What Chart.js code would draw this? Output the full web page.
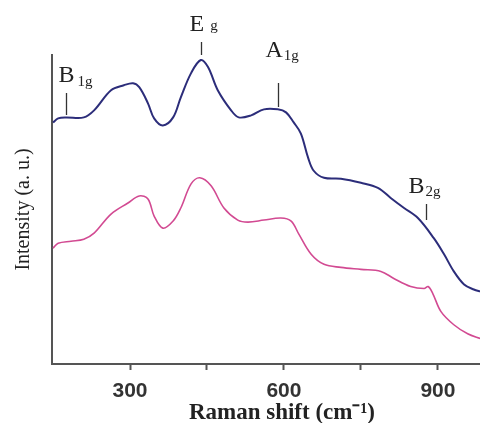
<!DOCTYPE html>
<html>
<head>
<meta charset="utf-8">
<title>Raman spectra</title>
<script src="https://cdn.jsdelivr.net/npm/chart.js@4"></script>
<style>
  html, body { margin: 0; padding: 0; background: #fff; }
  #ramanChart { display: block; }
</style>
</head>
<body>
<canvas id="ramanChart" width="480" height="423"></canvas>
<script>
// upper spectrum (blue)
const shiftTop = [150, 160, 175, 210, 230, 263, 288, 306, 318, 335, 347, 364, 384, 399, 419, 438, 452, 471, 497, 512, 536, 561, 588, 604, 619, 633, 647, 658, 678, 711, 750, 783, 808, 834, 861, 892, 912, 931, 951, 970, 984];
const intensityTop = [240, 244, 245, 245, 252, 272, 277, 279, 275, 259, 244, 237, 245, 265, 289, 302, 295, 272, 252, 245, 247, 253, 253, 250, 240, 229, 205, 192, 185, 184, 180, 175, 165, 155, 145, 125, 109, 92, 79, 74, 72];

// lower spectrum (pink)
const shiftBottom = [150, 160, 185, 210, 230, 263, 296, 318, 335, 347, 364, 384, 399, 419, 436, 458, 483, 510, 530, 561, 594, 614, 629, 653, 678, 711, 750, 789, 814, 847, 873, 881, 890, 906, 931, 958, 984];
const intensityBottom = [115, 120, 122, 124, 130, 149, 160, 167, 164, 147, 135, 142, 155, 179, 185, 177, 155, 143, 141, 143, 145, 142, 129, 109, 99, 96, 94, 92, 85, 77, 75, 77, 70, 52, 39, 30, 25];

// x axis ticks
const xTicks = [300, 450, 600, 750, 900];
const xTickLabels = ['300', '', '600', '', '900'];
const xTitle = 'Raman shift (cm⁻¹)';

// Raman mode labels
const peakNames = ['B', 'E', 'A', 'B'];
const peakSubs = ['1g', 'g', '1g', '2g'];
const peakShift = [175, 438, 588, 877];

const toPoints = (xs, ys) => xs.map((x, i) => ({ x: x, y: ys[i] }));

// vi tri nhan (pixel) cho tung mode
const peakLayout = [
  { top: 93, bottom: 115, dx: -8, base: 82, subBase: 86, gap: 3 },
  { top: 42, bottom: 55, dx: -12, base: 31, subBase: 30, gap: 6 },
  { top: 83, bottom: 107, dx: -13, base: 57, subBase: 60, gap: 1 },
  { top: 204, bottom: 220, dx: -18, base: 193, subBase: 196, gap: 1 }
];

const peakLabels = {
  id: 'peakLabels',
  afterDraw(chart) {
    const ctx = chart.ctx;
    const xScale = chart.scales.x;
    ctx.save();
    peakNames.forEach((name, i) => {
      const lay = peakLayout[i];
      const px = Math.round(xScale.getPixelForValue(peakShift[i])) + 0.5;
      ctx.strokeStyle = '#333';
      ctx.lineWidth = 1.3;
      ctx.beginPath();
      ctx.moveTo(px, lay.top);
      ctx.lineTo(px, lay.bottom);
      ctx.stroke();

      ctx.fillStyle = '#222';
      ctx.textBaseline = 'alphabetic';
      ctx.textAlign = 'left';
      ctx.font = '24px "Liberation Serif", serif';
      const left = px + lay.dx;
      ctx.fillText(name, left, lay.base);
      const w = ctx.measureText(name).width;
      ctx.font = '15px "Liberation Serif", serif';
      ctx.fillText(peakSubs[i], left + w + lay.gap, lay.subBase);
    });

    // tieu de truc x, can giua quanh vach 600
    ctx.font = 'bold 23px "Liberation Serif", serif';
    ctx.fillStyle = '#222';
    ctx.textAlign = 'center';
    ctx.textBaseline = 'middle';
    ctx.fillText(xTitle, xScale.getPixelForValue(xTicks[2]) - 2, 413);
    ctx.restore();
  }
};

document.addEventListener('DOMContentLoaded', () => {
  new Chart(document.getElementById('ramanChart'), {
    type: 'line',
    data: {
      datasets: [
        {
          label: 'top',
          data: toPoints(shiftTop, intensityTop),
          borderColor: '#2c2d7a',
          borderWidth: 2,
          pointRadius: 0,
          tension: 0.35,
          fill: false
        },
        {
          label: 'bottom',
          data: toPoints(shiftBottom, intensityBottom),
          borderColor: '#d24a92',
          borderWidth: 1.6,
          pointRadius: 0,
          tension: 0.35,
          fill: false
        }
      ]
    },
    options: {
      responsive: false,
      animation: false,
      events: [],
      layout: { padding: { left: 8, right: 0, top: 55, bottom: 10 } },
      plugins: {
        legend: { display: false },
        tooltip: { enabled: false }
      },
      scales: {
        x: {
          type: 'linear',
          min: 148,
          max: 982,
          afterBuildTicks: scale => {
            scale.ticks = xTicks.map(v => ({ value: v }));
          },
          ticks: {
            autoSkip: false,
            maxRotation: 0,
            padding: 11,
            color: '#333',
            font: { family: '"Liberation Sans", Arial, sans-serif', size: 21, weight: 'bold', lineHeight: 1 },
            callback: (value, index) => xTickLabels[index]
          },
          grid: {
            display: true,
            drawOnChartArea: false,
            drawTicks: true,
            tickLength: 6,
            tickWidth: 2,
            tickColor: '#555'
          },
          border: { display: true, color: '#555', width: 2 },
          title: { display: false }
        },
        y: {
          type: 'linear',
          min: 0,
          max: 307,
          ticks: { display: false },
          grid: { display: false, drawTicks: false },
          border: { display: true, color: '#555', width: 2 },
          title: {
            display: true,
            text: 'Intensity (a. u.)',
            color: '#222',
            padding: { top: 5, bottom: 17 },
            font: { family: '"Liberation Serif", serif', size: 20, lineHeight: '22px' }
          }
        }
      }
    },
    plugins: [peakLabels]
  });
});
</script>
</body>
</html>
